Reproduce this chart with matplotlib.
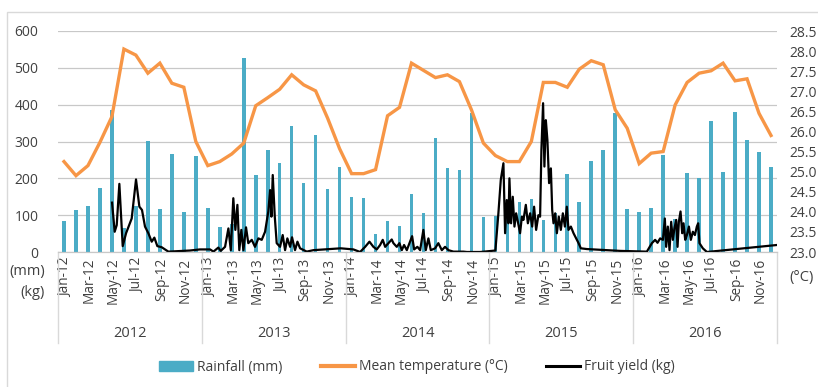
import matplotlib
matplotlib.use("Agg")
import matplotlib.pyplot as plt
import matplotlib.transforms as mtrans
from matplotlib.lines import Line2D
from matplotlib.patches import Patch, Rectangle
import numpy as np

plt.rcParams['font.family'] = ['Open Sans', 'DejaVu Sans']

years = ['2012', '2013', '2014', '2015', '2016']
months = ['Jan', 'Feb', 'Mar', 'Apr', 'May', 'Jun', 'Jul', 'Aug', 'Sep', 'Oct', 'Nov', 'Dec']

# monthly rainfall (mm)
rainfall = [83, 113, 124, 175, 386, 65, 125, 302, 117, 267, 108, 260,
            119, 67, 75, 526, 210, 277, 242, 341, 188, 318, 170, 232,
            150, 147, 48, 85, 70, 157, 105, 309, 227, 222, 377, 96,
            99, 100, 136, 145, 88, 105, 212, 135, 246, 278, 377, 117,
            109, 119, 263, 90, 215, 202, 356, 216, 381, 304, 271, 230]

# monthly mean temperature (C)
temperature = [25.25, 24.9, 25.15, 25.73, 26.37, 28.05, 27.9, 27.45, 27.7, 27.2, 27.1, 25.75,
               25.15, 25.25, 25.44, 25.71, 26.64, 26.84, 27.05, 27.41, 27.16, 27.01, 26.33, 25.57,
               24.95, 24.95, 25.05, 26.39, 26.6, 27.7, 27.52, 27.34, 27.41, 27.24, 26.54, 25.71,
               25.4, 25.25, 25.25, 25.75, 27.22, 27.22, 27.1, 27.55, 27.76, 27.66, 26.54, 26.08,
               25.2, 25.46, 25.5, 26.66, 27.22, 27.45, 27.51, 27.7, 27.26, 27.31, 26.45, 25.9]

# fruit yield: time in months since Jan 2012, yield (kg)
yield_time = [4.51, 4.73, 4.90, 5.12, 5.40, 5.68, 6.15, 6.51, 6.79, 7.01, 7.26, 7.54, 7.82, 8.04, 8.29, 8.65, 9.21,
              11.0, 11.85, 12.69, 12.97, 13.38, 13.58, 13.94, 14.22, 14.42, 14.63, 14.80, 14.97, 15.13, 15.30,
              15.47, 15.69, 15.88, 16.17, 16.44, 16.72, 17.00, 17.28, 17.55, 17.70, 17.81, 17.92, 18.09, 18.25,
              18.53, 18.75, 18.95, 19.14, 19.37, 19.53, 19.78, 19.98, 20.20, 20.76, 21.31, 22.7, 23.6, 24.65,
              25.21, 25.63, 25.99, 26.32, 26.60, 26.88, 27.10, 27.30, 27.57, 27.85, 27.99, 28.27, 28.49, 28.69,
              28.88, 29.11, 29.38, 29.55, 29.72, 29.99, 30.22, 30.49, 30.69, 30.91, 31.11, 31.47, 31.74, 32.03,
              32.30, 32.58, 33.0, 33.83, 34.12, 35.23, 36.5,
              36.75, 36.95, 37.17, 37.31, 37.45, 37.59, 37.67, 37.81, 37.95, 38.09, 38.23, 38.40, 38.56, 38.71,
              38.84, 39.04, 39.21, 39.40, 39.57, 39.73, 39.90, 40.09, 40.23, 40.34, 40.48, 40.59, 40.71, 40.84,
              40.98, 41.13, 41.24, 41.35, 41.49, 41.63, 41.79, 41.96, 42.13, 42.30, 42.46, 42.60, 42.80, 43.02,
              43.24, 43.44, 43.63, 44.13, 46.91,
              49.14, 49.56, 49.83, 50.03, 50.25, 50.48, 50.64, 50.75, 50.89, 51.03, 51.17, 51.31, 51.44, 51.59,
              51.70, 51.81, 51.95, 52.09, 52.20, 52.34, 52.48, 52.65, 52.81, 52.98, 53.15, 53.31, 53.42, 53.53,
              53.81, 54.15, 59.99]
fruit_yield = [134, 55, 73, 185, 16, 51, 91, 197, 123, 114, 69, 51, 28, 39, 16, 13, 1,
               4, 7, 7, 1, 12, 3, 14, 64, 5, 146, 60, 128, 5, 60,
               5, 67, 24, 33, 14, 37, 33, 55, 110, 168, 96, 209, 96, 24,
               14, 46, 5, 37, 14, 40, 5, 28, 10, 1, 5, 8, 10, 7,
               0, 14, 28, 14, 7, 19, 33, 14, 24, 34, 24, 14, 24, 5,
               19, 5, 28, 43, 7, 14, 5, 60, 5, 37, 5, 10, 24, 5,
               14, 5, 1, 1, 0, 0, 4,
               105, 196, 241, 51, 141, 78, 200, 78, 150, 69, 105, 78, 51, 96,
               87, 128, 78, 105, 69, 123, 60, 100, 96, 277, 404, 232, 358, 304,
               187, 227, 114, 78, 105, 51, 96, 60, 105, 69, 123, 60, 69, 51,
               37, 24, 10, 8, 3,
               1, 24, 33, 25, 37, 33, 91, 14, 69, 5, 82, 33, 64, 87,
               14, 82, 110, 51, 78, 33, 46, 69, 33, 55, 46, 69, 78, 24,
               10, 0, 19]

blue = '#4bacc6'
orange = '#f79646'
txt = '#404040'
grid = '#c8c8c8'

fig = plt.figure(figsize=(8.18, 3.87), dpi=100)
fig.patches.append(Rectangle((7 / 818, -0.2), 1.2, 1.2 - 12 / 387, transform=fig.transFigure,
                             fill=False, edgecolor='#d9d9d9', lw=1))
ax = fig.add_axes([58 / 818, 135 / 387, 719 / 818, 221 / 387])
ax2 = ax.twinx()

n = len(rainfall)
x = np.arange(n) + 0.5
ax.bar(x, rainfall, width=0.3, color=blue, zorder=2)
ax.plot(yield_time, fruit_yield, color='black', lw=1.6, zorder=3)
ax2.plot(x, temperature, color=orange, lw=2.4, solid_joinstyle='miter')

ax.set_xlim(0, n)
ax.set_ylim(0, 600)
ax.set_yticks(range(0, 601, 100))
ax.grid(axis='y', color=grid, lw=0.9, zorder=0)
ax.set_axisbelow(True)
ax2.set_ylim(23, 28.5)
ax2.set_yticks(np.arange(23, 28.51, 0.5))
ax2.set_yticklabels(['%.1f' % v for v in np.arange(23, 28.51, 0.5)])

for a in (ax, ax2):
    for s in ['top', 'left', 'right']:
        a.spines[s].set_visible(False)
    a.spines['bottom'].set_color(grid)
ax.tick_params(axis='y', length=0, pad=14, labelsize=10, labelcolor=txt)
ax2.tick_params(axis='y', length=0, pad=9, labelsize=10, labelcolor=txt)

labs = []
pos = []
for i in range(0, n, 2):
    pos.append(i + 0.5)
    labs.append('%s-%s' % (months[i % 12], years[i // 12][2:]))
ax.set_xticks(pos)
ax.set_xticklabels(labs, rotation=90, fontsize=9.8, color=txt, va='top')
ax.tick_params(axis='x', length=0, pad=4)
shift = mtrans.ScaledTranslation(1.5 / 100, 0, fig.dpi_scale_trans)
for lab in ax.get_xticklabels():
    lab.set_transform(lab.get_transform() + shift)

for k in range(len(years) + 1):
    ax.plot([k * 12, k * 12], [0, -0.41], transform=ax.get_xaxis_transform(),
            color='#d9d9d9', lw=1, clip_on=False)
for k, yr in enumerate(years):
    ax.text(k * 12 + 6, -0.371, yr, transform=ax.get_xaxis_transform(),
            ha='center', va='center', fontsize=10.5, color=txt)

fig.text(45 / 818, 1 - 272 / 387, '(mm)', ha='right', va='center', fontsize=10.5, color=txt)
fig.text(45 / 818, 1 - 292 / 387, '(kg)', ha='right', va='center', fontsize=10.5, color=txt)
fig.text(789 / 818, 1 - 277 / 387, '(°C)', ha='left', va='center', fontsize=10.5, color=txt)

handles = [Patch(color=blue), Line2D([], [], color=orange, lw=3), Line2D([], [], color='black', lw=2.2)]
names = ['Rainfall (mm)', 'Mean temperature (°C)', 'Fruit yield (kg)']
leg = fig.legend(handles, names, loc='center', bbox_to_anchor=(417 / 818, 20 / 387), ncol=3,
                 frameon=False, fontsize=10, handlelength=2.4, handletextpad=0.3, columnspacing=2.8)
for t in leg.get_texts():
    t.set_color(txt)

fig.savefig('out.png', dpi=100)
